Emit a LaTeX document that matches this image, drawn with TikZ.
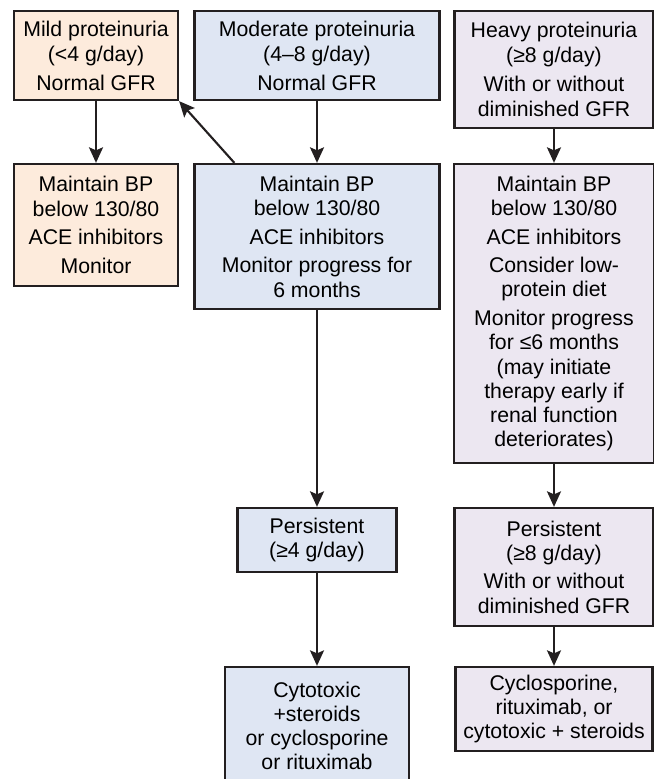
\documentclass[tikz,border=0pt]{standalone}
\usepackage{fontspec}
\setmainfont{Liberation Sans}
\usetikzlibrary{positioning, arrows.meta}
\definecolor{mildfill}{HTML}{FDEBDC}
\definecolor{modfill}{HTML}{DFE6F3}
\definecolor{heavyfill}{HTML}{ECE7F1}
\definecolor{inkgray}{HTML}{231F20}

\begin{document}
\begin{tikzpicture}[
    box/.style={
      font=\fontsize{12.1}{13.8}\selectfont, align=center,
      draw=inkgray, line width=1.3pt, rectangle, inner sep=0pt,
    },
    toprow/.style={font=\fontsize{12.1}{14.6}\selectfont},
    mild/.style={box, fill=mildfill, minimum width=3.28cm},
    moder/.style={box, fill=modfill},
    heavy/.style={box, fill=heavyfill},
    flow/.style={-{Stealth[length=3.1mm, width=2.8mm, inset=0.6mm]}, line width=1.2pt, inkgray},
]
\useasboundingbox (0,0) rectangle (13.08,-15.58);

% first row: amount of proteinuria
\node[mild, toprow] (Mild) at (1.92,-1.11) [minimum height=1.78cm]
  {Mild proteinuria\\(<4 g/day)\\[1.5pt]Normal GFR};
\node[moder, toprow] (Mod) at (6.34,-1.11) [minimum width=4.9cm, minimum height=1.78cm]
  {Moderate proteinuria\\(4–8 g/day)\\[1.5pt]Normal GFR};
\node[heavy, toprow] (Heavy) at (11.08,-1.39) [minimum width=3.98cm, minimum height=2.34cm]
  {Heavy proteinuria\\(≥8 g/day)\\[1.5pt]With or without\\diminished GFR};

% second row: management
\node[mild] (MildCare) at (Mild |- 0,-4.5) [minimum height=2.44cm]
  {Maintain BP\\below 130/80\\[2.5pt]ACE inhibitors\\[2.5pt]Monitor};
\node[moder] (ModCare) at (Mod |- 0,-4.73) [minimum width=4.9cm, minimum height=2.9cm]
  {Maintain BP\\below 130/80\\[2.5pt]ACE inhibitors\\[2.5pt]Monitor progress for\\6 months};
\node[heavy] (HeavyCare) at (11.08,-6.27) [minimum width=4.0cm, minimum height=5.98cm]
  {Maintain BP\\below 130/80\\[2.5pt]ACE inhibitors\\[2.5pt]Consider low-\\protein diet\\[2.5pt]Monitor progress\\for ≤6 months\\(may initiate\\therapy early if\\renal function\\deteriorates)};

% persistent proteinuria
\node[moder] (ModPers) at (Mod |- 0,-10.8) [minimum width=3.18cm, minimum height=1.28cm]
  {Persistent\\(≥4 g/day)};
\node[heavy] (HeavyPers) at (Heavy |- 0,-11.34) [minimum width=3.98cm, minimum height=2.36cm]
  {Persistent\\(≥8 g/day)\\[2.5pt]With or without\\diminished GFR};

% therapy
\node[moder] (ModTx) at (Mod |- 0,-14.52) [minimum width=3.68cm, minimum height=2.36cm]
  {Cytotoxic\\+steroids\\or cyclosporine\\or rituximab};
\node[heavy] (HeavyTx) at (Heavy |- 0,-14.18) [minimum width=3.94cm, minimum height=1.68cm]
  {Cyclosporine,\\rituximab, or\\cytotoxic + steroids};

\draw[flow] (Mild) -- (MildCare);
\draw[flow] (Mod) -- (ModCare);
\draw[flow] (Heavy) -- (HeavyCare);
\draw[flow] ([xshift=0.82cm]ModCare.north west) -- (Mild.south east);
\draw[flow] (ModCare) -- (ModPers);
\draw[flow] (ModPers) -- (ModTx);
\draw[flow] (HeavyCare) -- (HeavyPers);
\draw[flow] (HeavyPers) -- (HeavyTx);

\end{tikzpicture}
\end{document}
